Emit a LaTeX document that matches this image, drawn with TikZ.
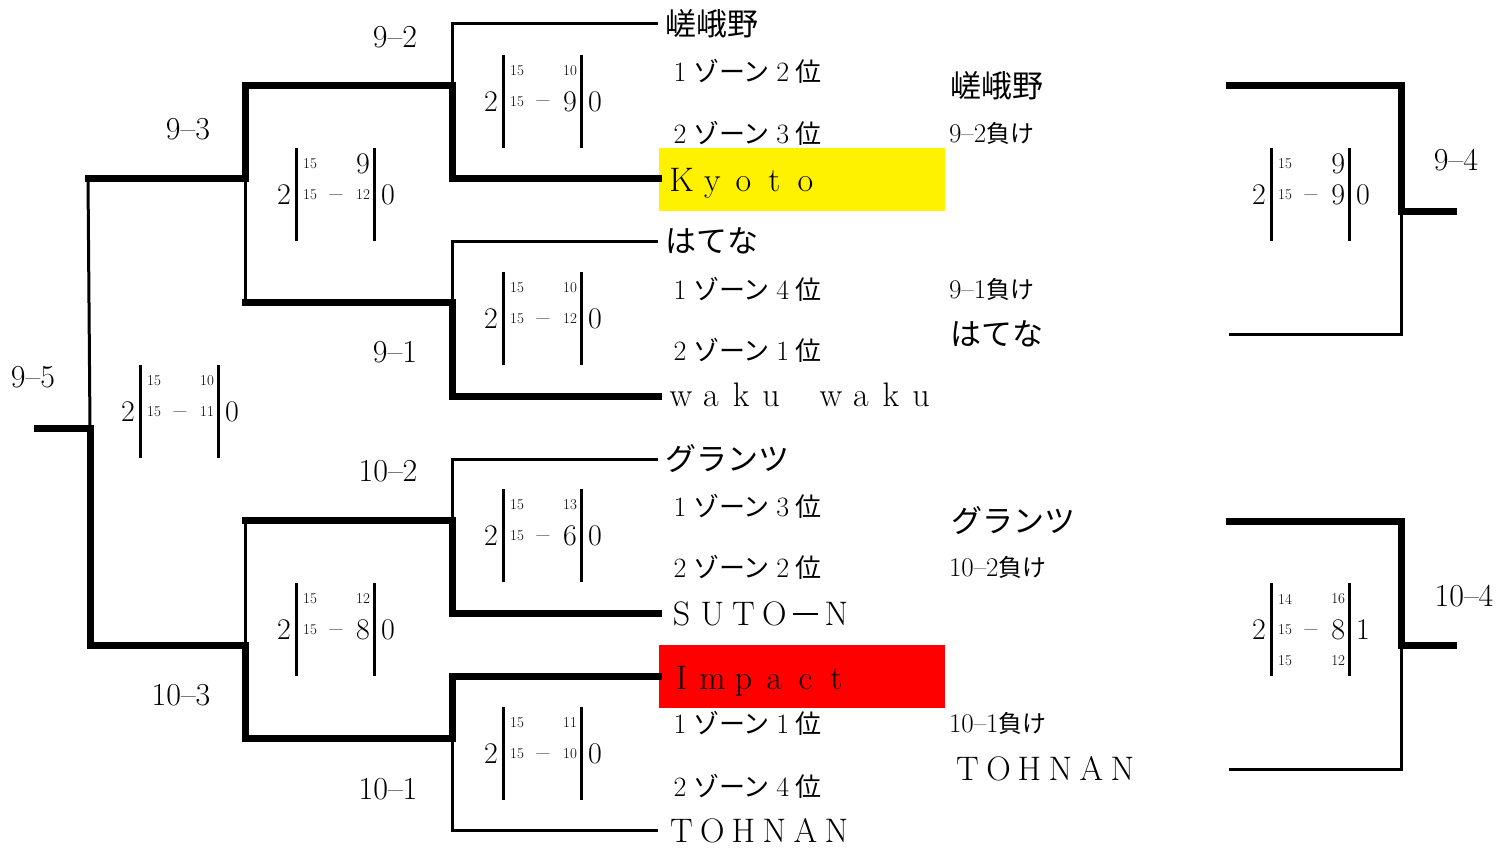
\documentclass[tikz,border=0pt]{standalone}
\usepackage{fontspec}
\newfontfamily\cjk{Noto Sans CJK JP}
\newcommand\fwc[2][31]{\makebox[#1pt][c]{#2}}
\newcommand\smf{\fontsize{15}{16}\selectfont}
\newcommand\lgf{\fontsize{30}{31}\selectfont}
\newcommand\zonetxt[2]{\fontsize{28}{30}\selectfont\fwc[26]{#1}{\cjk\fontsize{26}{28}\selectfont ゾーン}\fwc[26]{#2}{\cjk\fontsize{26}{28}\selectfont 位}}
\newcommand\sblock[9]{%
  \node[bigdig] (#1L) at ({#2-12},#3) {#4};
  \coordinate (#1a1) at (#2,{#3-47}); \coordinate (#1a2) at (#2,{#3+46});
  \coordinate (#1b1) at ({#2+78},{#3-47}); \coordinate (#1b2) at ({#2+78},{#3+46});
  \draw[bar] (#1a1) -- (#1a2);
  \draw[bar] (#1b1) -- (#1b2);
  \node[smdig] (#1p) at ({#2+14},{#3-31}) {#6};
  \node[rdig] (#1q) at ({#2+74},{#3-31}) {#7};
  \node[smdig] (#1r) at ({#2+14},#3) {#8};
  \node[dashnode] (#1m) at ({#2+40},{#3+7}) {\textendash};
  \node[rdig] (#1s) at ({#2+74},#3) {#9};
  \node[bigdig] (#1R) at ({#2+92},#3) {#5};
}
\begin{document}
\begin{tikzpicture}[x=1pt,y=-1pt,
  every node/.style={inner sep=0pt,outer sep=0pt},
  wline/.style={line width=7pt,line cap=rect},
  nline/.style={line width=3pt},
  bar/.style={line width=3pt},
  bigdig/.style={font=\lgf,anchor=center},
  smdig/.style={font=\smf,anchor=center},
  rdig/.style={anchor=east},
  dashnode/.style={font=\fontsize{28}{30}\selectfont,anchor=base},
  lbl/.style={font=\fontsize{32}{34}\selectfont,anchor=center},
  team/.style={font=\cjk\fontsize{31}{33}\selectfont,anchor=west},
  fwname/.style={font=\fontsize{34}{36}\selectfont,anchor=base west},
  zone/.style={anchor=west},
  lose/.style={font=\fontsize{27}{29}\selectfont,anchor=west}]
\useasboundingbox (0,0) rectangle (1511,848);

% highlight boxes
\fill[yellow] (659,148) rectangle (945,211);
\fill[red] (659,645) rectangle (945,708);

% coordinates
\coordinate (r0) at (37,428); \coordinate (r1) at (90,428);
\coordinate (rT) at (88,178); \coordinate (rB) at (90,645);
\coordinate (a) at (245,178); \coordinate (aT) at (245,86); \coordinate (aB) at (245,302);
\coordinate (b) at (452,86); \coordinate (bT) at (452,24); \coordinate (bB) at (452,178);
\coordinate (bTe) at (658,24); \coordinate (bBe) at (658,178);
\coordinate (c) at (452,302); \coordinate (cT) at (452,241); \coordinate (cB) at (452,396);
\coordinate (cTe) at (658,241); \coordinate (cBe) at (658,396);
\coordinate (d) at (245,645); \coordinate (dT) at (245,520); \coordinate (dB) at (245,738);
\coordinate (e) at (452,520); \coordinate (eT) at (452,459); \coordinate (eB) at (452,613);
\coordinate (eTe) at (658,459); \coordinate (eBe) at (658,613);
\coordinate (f) at (452,738); \coordinate (fT) at (452,676); \coordinate (fB) at (452,830);
\coordinate (fTe) at (658,676); \coordinate (fBe) at (658,830);
\coordinate (g) at (1401,211); \coordinate (gT) at (1401,86); \coordinate (gB) at (1401,334);
\coordinate (gTs) at (1229,86); \coordinate (gBs) at (1229,334); \coordinate (go) at (1453,211);
\coordinate (h) at (1401,645); \coordinate (hT) at (1401,521); \coordinate (hB) at (1401,769);
\coordinate (hTs) at (1229,521); \coordinate (hBs) at (1229,769); \coordinate (ho) at (1453,645);

% thin lines
\draw[nline] (r1) -- (rT);
\draw[nline] (a) -- (aB);
\draw[nline] (b) -- (bT) -- (bTe);
\draw[nline] (c) -- (cT) -- (cTe);
\draw[nline] (d) -- (dT);
\draw[nline] (e) -- (eT) -- (eTe);
\draw[nline] (f) -- (fB) -- (fBe);
\draw[nline] (g) -- (gB) -- (gBs);
\draw[nline] (h) -- (hB) -- (hBs);

% thick lines
\draw[wline] (r0) -- (r1) -- (rB) -- (d);
\draw[wline] (rT) -- (a) -- (aT) -- (b) -- (bB) -- (bBe);
\draw[wline] (aB) -- (c) -- (cB) -- (cBe);
\draw[wline] (d) -- (dB) -- (f) -- (fT) -- (fTe);
\draw[wline] (dT) -- (e) -- (eB) -- (eBe);
\draw[wline] (gTs) -- (gT) -- (g) -- (go);
\draw[wline] (hTs) -- (hT) -- (h) -- (ho);

% match labels
\node[lbl] (l92) at (395,37) {9\textendash2};
\node[lbl] (l93) at (188,129) {9\textendash3};
\node[lbl] (l95) at (33,377) {9\textendash5};
\node[lbl] (l91) at (395,352) {9\textendash1};
\node[lbl] (l102) at (388,471) {10\textendash2};
\node[lbl] (l103) at (181,695) {10\textendash3};
\node[lbl] (l101) at (388,789) {10\textendash1};
\node[lbl] (l94) at (1456,160) {9\textendash4};
\node[lbl] (l104) at (1464,596) {10\textendash4};

% score blocks
\sblock{s92}{503}{102}{2}{0}{15}{\smf 10}{15}{\lgf 9}
\sblock{s91}{503}{319}{2}{0}{15}{\smf 10}{15}{\smf 12}
\sblock{s102}{503}{536}{2}{0}{15}{\smf 13}{15}{\lgf 6}
\sblock{s101}{503}{754}{2}{0}{15}{\smf 11}{15}{\smf 10}
\sblock{s93}{296}{195}{2}{0}{15}{\lgf 9}{15}{\smf 12}
\sblock{s103}{296}{630}{2}{0}{15}{\smf 12}{15}{\lgf 8}
\sblock{s95}{140}{412}{2}{0}{15}{\smf 10}{15}{\smf 11}
\sblock{s94}{1271}{195}{2}{0}{15}{\lgf 9}{15}{\lgf 9}
\sblock{s104}{1271}{630}{2}{1}{14}{\smf 16}{15}{\lgf 8}
\node[smdig] (s104t) at (1285,661) {15};
\node[rdig,font=\smf] (s104u) at (1345,661) {12};

% team names (left column)
\node[team] (t1) at (665,24) {嵯峨野};
\node[fwname] (t2) at (666,191) {\fwc{K}\fwc{y}\fwc{o}\fwc{t}\fwc{o}};
\node[team] (t3) at (665,241) {はてな};
\node[fwname] (t4) at (666,406) {\fwc[30]{w}\fwc[30]{a}\fwc[30]{k}\fwc[30]{u}\fwc[30]{}\fwc[30]{w}\fwc[30]{a}\fwc[30]{k}\fwc[30]{u}};
\node[team] (t5) at (665,459) {グランツ};
\node[fwname] (t6) at (666,625) {\fwc{S}\fwc{U}\fwc{T}\fwc{O}\fwc{\rule[10pt]{25pt}{1.6pt}}\fwc{N}};
\node[fwname] (t7) at (666,689) {\fwc{I}\fwc{m}\fwc{p}\fwc{a}\fwc{c}\fwc{t}};
\node[fwname] (t8) at (666,842) {\fwc{T}\fwc{O}\fwc{H}\fwc{N}\fwc{A}\fwc{N}};

% zone lines
\node[zone] (z1) at (667,71) {\zonetxt{1}{2}};
\node[zone] (z2) at (667,133) {\zonetxt{2}{3}};
\node[zone] (z3) at (667,289) {\zonetxt{1}{4}};
\node[zone] (z4) at (667,350) {\zonetxt{2}{1}};
\node[zone] (z5) at (667,506) {\zonetxt{1}{3}};
\node[zone] (z6) at (667,567) {\zonetxt{2}{2}};
\node[zone] (z7) at (667,723) {\zonetxt{1}{1}};
\node[zone] (z8) at (667,786) {\zonetxt{2}{4}};

% right column
\node[team] (u1) at (950,86) {嵯峨野};
\node[lose] (u2) at (949,133) {9\textendash2{\cjk\fontsize{24}{26}\selectfont 負け}};
\node[lose] (u3) at (949,289) {9\textendash1{\cjk\fontsize{24}{26}\selectfont 負け}};
\node[team] (u4) at (950,334) {はてな};
\node[team] (u5) at (951,521) {グランツ};
\node[lose] (u6) at (949,567) {10\textendash2{\cjk\fontsize{24}{26}\selectfont 負け}};
\node[lose] (u7) at (949,723) {10\textendash1{\cjk\fontsize{24}{26}\selectfont 負け}};
\node[fwname] (u8) at (952,780) {\fwc{T}\fwc{O}\fwc{H}\fwc{N}\fwc{A}\fwc{N}};
\end{tikzpicture}
\end{document}
